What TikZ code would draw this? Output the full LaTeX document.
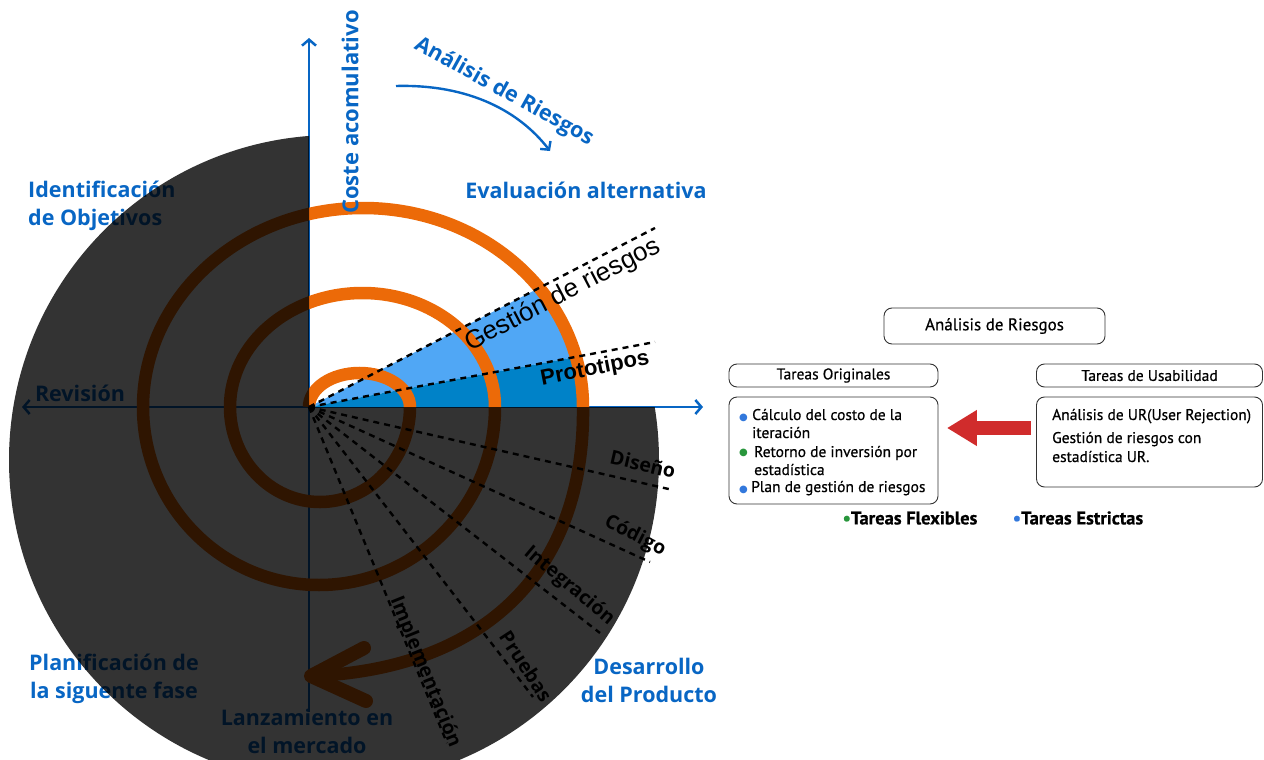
\documentclass[tikz,border=0pt]{standalone}
\usepackage{fontspec}
\setmainfont{Liberation Sans}
\newfontfamily\osans{Open Sans}
\newfontfamily\pts{PT Sans}[FakeBold=0.5]
\newfontfamily\dvs{DejaVu Sans}
\usetikzlibrary{arrows.meta}
\definecolor{bl}{RGB}{8,102,196}
\definecolor{org}{RGB}{236,106,8}
\definecolor{lb}{RGB}{80,167,245}
\definecolor{db}{RGB}{0,130,200}
\definecolor{redar}{RGB}{208,44,44}
\definecolor{bb}{RGB}{50,120,220}
\definecolor{gb}{RGB}{40,150,60}
\newcommand\mybul[1]{\textcolor{#1}{\dvs\fontsize{10}{10}\selectfont ●}}
\begin{document}
\begin{tikzpicture}[x=1pt,y=-1pt,
  bluelab/.style={text=bl,font=\osans\bfseries\fontsize{21.5}{28}\selectfont,inner sep=0pt,align=center},
  axisline/.style={bl,line width=2.5pt},
  spiral/.style={org,line width=12.5pt},
  dline/.style={black,line width=2.4pt,dash pattern=on 6pt off 5pt},
  lowlab/.style={font=\osans\bfseries\fontsize{19.5}{21}\selectfont,inner sep=0pt},
  rbox/.style={draw=black!80,line width=0.9pt,rounded corners=8pt,inner sep=0pt},
  btxt/.style={font=\pts\fontsize{15.5}{18}\selectfont,inner sep=0pt,anchor=base west}]
\useasboundingbox (0,0) rectangle (1264,760);

% ---- blue labels (drawn before overlay)
\node[bluelab,rotate=-29] (anr) at (504,92) {Análisis de Riesgos};
\node[bluelab] (eval) at (586,190) {Evaluación alternativa};
\node[bluelab,align=left,anchor=west] (ident) at (28,206) {Identificación\\de Objetivos};
\node[bluelab] (rev) at (80,393) {Revisión};
\node[bluelab] (plan) at (114,679) {Planificación de\\la siguente fase};
\node[bluelab] (lanz) at (307,731) {Lanzamiento en\\el mercado};
\node[bluelab] (desa) at (649,680) {Desarrollo\\del Producto};

% curved arrow of Analisis de Riesgos
\coordinate (ca1) at (396,86);
\coordinate (ca2) at (550,151);
\draw[bl,line width=2.4pt,-{Straight Barb[length=6pt,width=13pt]}] (ca1) .. controls (470,84) and (520,112) .. (ca2);

% ---- axes
\coordinate (O) at (309,407);
\coordinate (ytop) at (309,38);
\coordinate (ybot) at (309,712);
\coordinate (xl) at (22,407);
\coordinate (xr) at (703,407);
\draw[axisline,-{Straight Barb[length=6pt,width=14pt]}] (ybot) -- (ytop);
\draw[axisline,{Straight Barb[length=6pt,width=14pt]}-{Straight Barb[length=6pt,width=14pt]}] (xl) -- (xr);

% ---- blue wedges
\coordinate (gend) at (655,228);
\coordinate (pend) at (655,342);
\begin{scope}
\clip (143,407) arc[start angle=180,end angle=360,x radius=220,y radius=199] -- cycle;
\fill[lb] (O) -- (gend) -- (pend) -- cycle;
\fill[db] (O) -- (pend) -- (655,407) -- cycle;
\end{scope}

% ---- spiral
\coordinate (tip) at (311,676);
\draw[spiral] (O) arc[start angle=180,end angle=360,x radius=50.5,y radius=34]
  arc[start angle=0,end angle=180,x radius=90,y radius=95]
  arc[start angle=180,end angle=360,x radius=132.5,y radius=114]
  arc[start angle=0,end angle=180,x radius=176,y radius=178]
  arc[start angle=180,end angle=360,x radius=220,y radius=199]
  .. controls (585,580) and (475,670) .. (tip);
\draw[org,line width=14pt,line cap=round,line join=round] (364,648) -- (tip) -- (366,701);

% ---- dark overlay
\begin{scope}
\clip (-10,-10) -- (309,-10) -- (309,407) -- (1300,407) -- (1300,800) -- (-10,800) -- cycle;
\fill[black,opacity=0.8] (334,460) circle[radius=325];
\end{scope}

% ---- vertical axis label (on top of the spiral)
\node[bluelab,rotate=90] (coste) at (350,112) {\fontsize{22}{24}\selectfont Coste acomulativo};

% ---- dashed lines
\coordinate (e1) at (673,490);
\coordinate (e2) at (650,562);
\coordinate (e3) at (600,633);
\coordinate (e4) at (533,697);
\coordinate (e5) at (447,743);
\draw[dline] (O) -- (gend);
\draw[dline] (O) -- (pend);
\draw[dline] (O) -- (e1);
\draw[dline] (O) -- (e2);
\draw[dline] (O) -- (e3);
\draw[dline] (O) -- (e4);
\draw[dline] (O) -- (e5);

% ---- black labels
\node[font=\fontsize{26}{28}\selectfont,inner sep=0pt,rotate=27.5] (gest) at (563,295) {Gestión de riesgos};
\node[font=\bfseries\fontsize{22}{24}\selectfont,inner sep=0pt,rotate=11] (proto) at (595,369) {Prototipos};
\node[lowlab,rotate=-13] (dis) at (643,464) {Diseño};
\node[lowlab,rotate=-27] (cod) at (635,536) {Código};
\node[lowlab,rotate=-40] (integ) at (569,586) {Integración};
\node[lowlab,rotate=-57] (prue) at (526,666) {Pruebas};
\node[lowlab,rotate=-68] (impl) at (425,672) {Implementación};

% ---- right side
\node[rbox,minimum width=221pt,minimum height=36pt,font=\pts\fontsize{17}{19}\selectfont] (ar) at (994.5,326) {Análisis de Riesgos};
\node[rbox,minimum width=209pt,minimum height=23pt,font=\pts\fontsize{15.5}{17}\selectfont] (to) at (833.5,375.5) {Tareas Originales};
\node[rbox,minimum width=226pt,minimum height=23pt,font=\pts\fontsize{15.5}{17}\selectfont] (tu) at (1149.5,375.5) {Tareas de Usabilidad};
\node[rbox,minimum width=209pt,minimum height=107pt] (lc) at (833.5,450.5) {};
\node[rbox,minimum width=226pt,minimum height=90pt] (rc) at (1149.5,442) {};
\node[btxt] (b1) at (739,420) {\mybul{bb}};
\node[btxt] (l1) at (752,420) {Cálculo del costo de la};
\node[btxt] (l2) at (752,438) {iteración};
\node[btxt] (b3) at (739,455) {\mybul{gb}};
\node[btxt] (l3) at (754,457) {Retorno de inversión por};
\node[btxt] (l4) at (754,475) {estadística};
\node[btxt] (b5) at (739,492) {\mybul{bb}};
\node[btxt] (l5) at (751,492) {Plan de gestión de riesgos};
\node[btxt] (r1) at (1052,420) {Análisis de UR(User Rejection)};
\node[btxt] (r2) at (1052,443) {Gestión de riesgos con};
\node[btxt] (r3) at (1052,462) {estadística UR.};
\coordinate (ay) at (0,428);
\draw[redar,line width=14pt,-{Triangle[length=30pt,width=34pt]},shorten <=5pt,shorten >=8.5pt] (rc.west |- ay) -- (lc.east |- ay);
\node[font=\pts\bfseries\fontsize{18.5}{20}\selectfont,inner sep=0pt] (flex) at (910,518) {\textcolor{gb}{•}Tareas Flexibles};
\node[font=\pts\bfseries\fontsize{18.5}{20}\selectfont,inner sep=0pt] (estr) at (1078,518) {\textcolor{bb}{•}Tareas Estrictas};
\end{tikzpicture}
\end{document}
